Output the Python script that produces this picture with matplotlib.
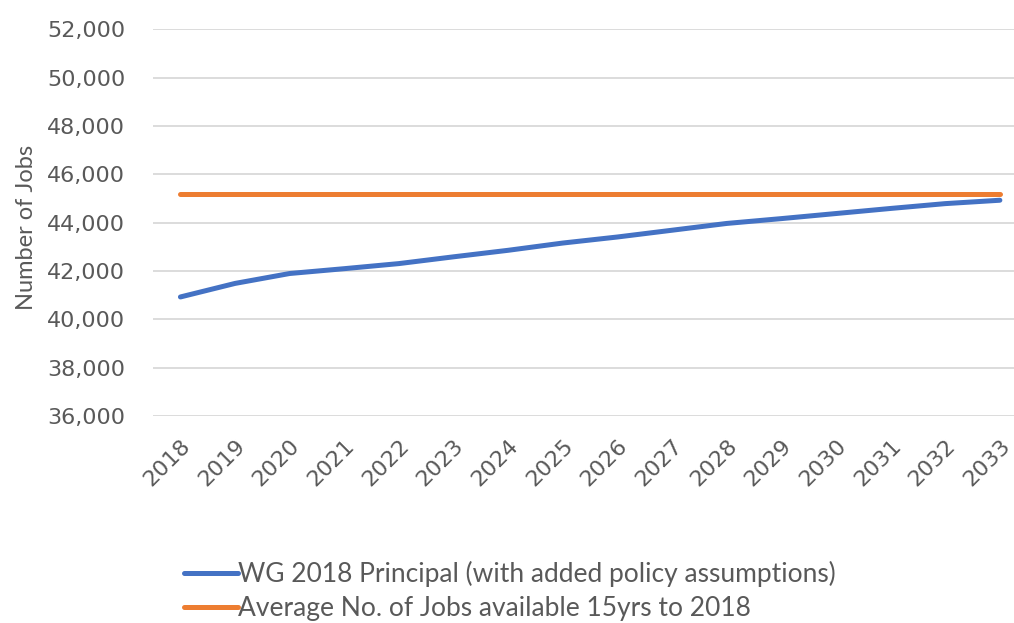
import matplotlib
matplotlib.use("Agg")
import matplotlib.pyplot as plt
from matplotlib.ticker import FuncFormatter

years = [str(y) for y in range(2018, 2034)]
wg_principal = [40930, 41490, 41900, 42100, 42310, 42590, 42860, 43160,
                43410, 43690, 43970, 44170, 44380, 44590, 44790, 44930]
average_jobs = [45200] * 16
series_labels = ["WG 2018 Principal (with added policy assumptions)",
                 "Average No. of Jobs available 15yrs to 2018"]

plt.rcParams['font.family'] = ['DejaVu Sans']
fig = plt.figure(figsize=(10.14, 6.23), dpi=100)
ax = fig.add_axes([0.151, 0.332, 0.862, 0.621])

x = list(range(len(years)))
l1, = ax.plot(x, wg_principal, color='#4472C4', lw=3.6, solid_capstyle='round', label=series_labels[0])
l2, = ax.plot(x, average_jobs, color='#ED7D31', lw=3.6, solid_capstyle='round', label=series_labels[1])

ax.set_xlim(-0.5, len(years) - 0.5)
ax.set_ylim(36000, 52000)
ax.set_yticks(range(36000, 52001, 2000))
ax.yaxis.set_major_formatter(FuncFormatter(lambda v, p: f"{int(v):,}"))
ax.set_xticks(x)
ax.set_xticklabels(years, rotation=45, ha='right', rotation_mode='anchor')
ax.grid(axis='y', color='#d9d9d9', lw=1.3)
ax.set_axisbelow(True)
for s in ax.spines.values():
    s.set_visible(False)
ax.tick_params(axis='both', length=0, colors='#595959', labelsize=16)
ax.tick_params(axis='y', pad=20)
ax.tick_params(axis='x', pad=14)
ax.set_ylabel("Number of Jobs", color='#595959', fontsize=17, family='Lato')
ax.yaxis.set_label_coords(-0.133, 0.488)

fig.legend(handles=[l1, l2], loc='upper left', bbox_to_anchor=(0.171, 0.117),
           frameon=False, prop={'family': 'Lato', 'size': 19}, labelcolor='#595959',
           handlelength=2.05, handletextpad=0.0, labelspacing=0.36, borderaxespad=0)

fig.savefig("out.png", dpi=100)
